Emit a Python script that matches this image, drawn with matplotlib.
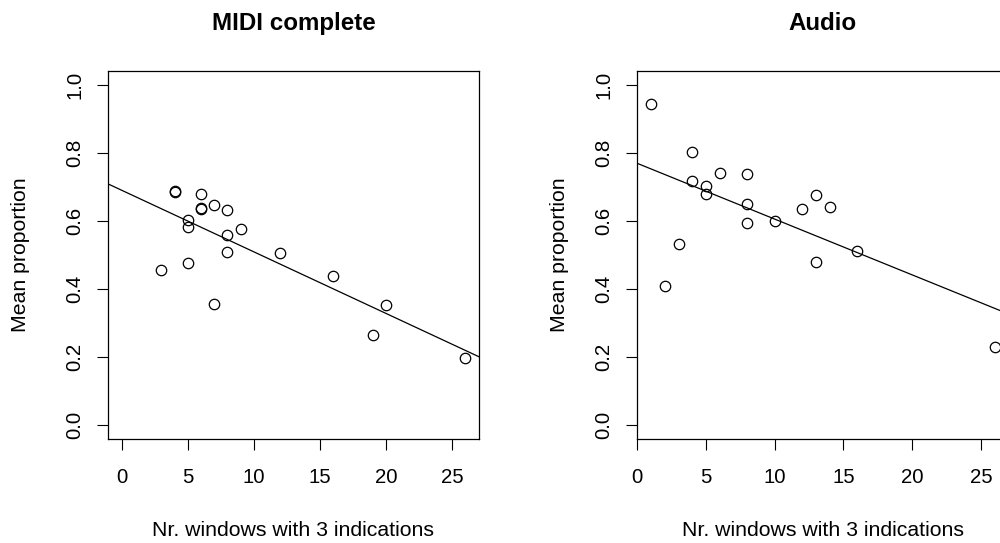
import matplotlib
matplotlib.use("Agg")
import matplotlib.pyplot as plt

plt.rcParams['font.family'] = ['Liberation Sans', 'DejaVu Sans']

# MIDI complete panel
midi_x = [3, 4, 4, 6, 6, 6, 7, 8, 5, 5, 9, 8, 8, 12, 5, 7, 16, 20, 19, 26]
midi_y = [0.456, 0.684, 0.688, 0.680, 0.636, 0.639, 0.647, 0.633, 0.604, 0.581,
          0.575, 0.558, 0.510, 0.505, 0.477, 0.356, 0.438, 0.353, 0.265, 0.198]
midi_fit = (0.690, -0.01807)  # intercept, slope

# Audio panel
audio_x = [1, 2, 3, 4, 4, 5, 5, 6, 8, 8, 8, 10, 12, 13, 13, 14, 16, 26]
audio_y = [0.943, 0.408, 0.532, 0.801, 0.718, 0.704, 0.679, 0.740, 0.738, 0.650,
           0.595, 0.600, 0.634, 0.677, 0.479, 0.641, 0.512, 0.231]
audio_fit = (0.769, -0.01636)

titles = ["MIDI complete", "Audio"]
xlabel = "Nr. windows with 3 indications"
ylabel = "Mean proportion"
xticks = [0, 5, 10, 15, 20, 25]
yticks = [0.0, 0.2, 0.4, 0.6, 0.8, 1.0]

tick_fs = 14.7
lab_fs = 15.3
title_fs = 17.4

fig = plt.figure(figsize=(10, 5.43), dpi=100)
ax1 = fig.add_axes([0.108, 0.1915, 0.371, 0.6777])
ax2 = fig.add_axes([0.6373, 0.1915, 0.371, 0.6777])

panels = [
    (ax1, midi_x, midi_y, midi_fit, (-1.04, 27.04), -0.237),
    (ax2, audio_x, audio_y, audio_fit, (0, 27.0), -0.209),
]

for i, (ax, xs, ys, fit, xlim, ylab_x) in enumerate(panels):
    ax.plot(xs, ys, 'o', mfc='none', mec='black', ms=7.5, mew=0.9, clip_on=False)
    ax.axline((0, fit[0]), slope=fit[1], color='black', lw=0.9)
    ax.set_xlim(*xlim)
    ax.set_ylim(-0.04, 1.04)
    ax.set_xticks(xticks)
    ax.set_xticklabels([str(t) for t in xticks])
    ax.set_yticks(yticks)
    ax.set_yticklabels(["%.1f" % t for t in yticks], rotation=90, va='center')
    ax.tick_params(axis='both', length=8, width=0.8, labelsize=tick_fs, color='black')
    ax.tick_params(axis='x', pad=13)
    ax.tick_params(axis='y', pad=9)
    for sp in ax.spines.values():
        sp.set_linewidth(0.9)
    ax.set_title(titles[i], fontsize=title_fs, fontweight='bold', y=1.089)
    ax.set_xlabel(xlabel, fontsize=lab_fs)
    ax.xaxis.set_label_coords(0.5, -0.249)
    ax.xaxis.label.set_verticalalignment('center')
    ax.set_ylabel(ylabel, fontsize=lab_fs)
    ax.yaxis.set_label_coords(ylab_x, 0.5)
    ax.yaxis.label.set_verticalalignment('center')

fig.savefig("out.png", dpi=100)
